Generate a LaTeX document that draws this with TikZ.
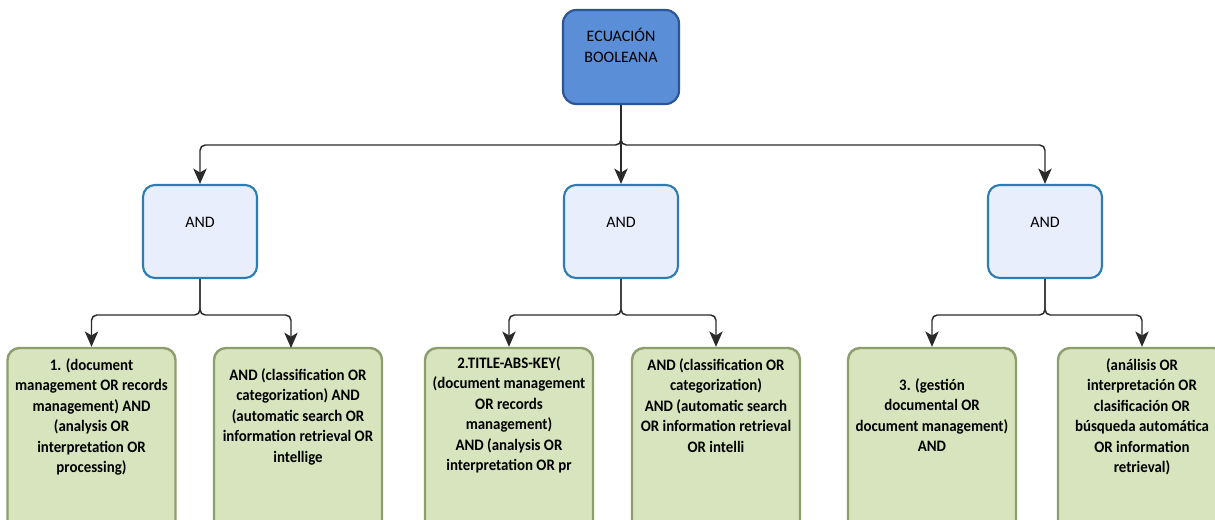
\documentclass[tikz,border=0pt]{standalone}
\usepackage{fontspec}
\setmainfont{Carlito}
\usetikzlibrary{arrows.meta}
\definecolor{topfill}{HTML}{5A8ED6}
\definecolor{topdraw}{HTML}{2C5597}
\definecolor{andfill}{HTML}{E9EEFC}
\definecolor{anddraw}{HTML}{2E7DB2}
\definecolor{leaffill}{HTML}{D8E4BD}
\definecolor{leafdraw}{HTML}{8C9E6C}
\definecolor{wire}{HTML}{2A2A2A}
\tikzset{
  topbox/.style={draw=topdraw, fill=topfill, line width=1.6pt, rounded corners=10pt,
    minimum width=87pt, minimum height=70.5pt, inner sep=0pt},
  andbox/.style={draw=anddraw, fill=andfill, line width=1.6pt, rounded corners=9pt,
    minimum width=85.5pt, minimum height=69.75pt, inner sep=0pt},
  leafbox/.style={draw=leafdraw, fill=leaffill, line width=1.8pt, rounded corners=9pt,
    minimum width=126pt, minimum height=159pt, inner sep=0pt},
  leaftext/.style={anchor=north, align=center, inner sep=0pt,
    font=\fontsize{12}{15.4}\selectfont\bfseries\addfontfeature{FakeStretch=0.93}},
  lbl/.style={inner sep=0pt, align=center, font=\fontsize{12}{15.4}\selectfont},
  wirebus/.style={draw=wire, line width=1.1pt, rounded corners=4pt},
  wirearrow/.style={wirebus, -{Stealth[length=11.5pt,width=10pt,inset=3pt]}}
}
\begin{document}
\begin{tikzpicture}[x=0.75pt,y=-0.75pt]
\clip (0,0) rectangle (1215,520);
\useasboundingbox (0,0) rectangle (1215,520);
\fill[white] (0,0) rectangle (1215,520);
% top
\node[topbox] (top) at (621,57) {};
\node[lbl, anchor=north] (toptext) at (621,28) {ECUACIÓN\\BOOLEANA};
% AND nodes
\node[andbox] (a1) at (200,231.5) {};
\node[andbox] (a2) at (621,231.5) {};
\node[andbox] (a3) at (1045,231.5) {};
\node[lbl] (a1t) at (200,222) {AND};
\node[lbl] (a2t) at (621,222) {AND};
\node[lbl] (a3t) at (1045,222) {AND};
% leaves
\node[leafbox] (c1) at (91.5,454) {};
\node[leafbox] (c2) at (298,454) {};
\node[leafbox] (c3) at (509,454) {};
\node[leafbox] (c4) at (716,454) {};
\node[leafbox] (c5) at (932,454) {};
\node[leafbox] (c6) at (1142,454) {};
\node[leaftext] (t1) at (91.5,358) {1. (document\\management OR records\\management) AND\\(analysis OR\\interpretation OR\\processing)};
\node[leaftext] (t2) at (298,368) {AND (classification OR\\categorization) AND\\(automatic search OR\\information retrieval OR\\intellige};
\node[leaftext] (t3) at (509,356) {2.TITLE-ABS-KEY(\\(document management\\OR records\\management)\\AND (analysis OR\\interpretation OR pr};
\node[leaftext] (t4) at (716,358) {AND (classification OR\\categorization)\\AND (automatic search\\OR information retrieval\\OR intelli};
\node[leaftext] (t5) at (932,378) {3. (gestión\\documental OR\\document management)\\AND};
\node[leaftext] (t6) at (1142,358) {(análisis OR\\interpretación OR\\clasificación OR\\búsqueda automática\\OR information\\retrieval)};
% connectors level 1
\coordinate (j0) at (621,145);
\draw[wirearrow] (top.south) -- (j0) -| (a1.north);
\draw[wirearrow] (top.south) -- (j0) -| (a3.north);
\draw[wirearrow] (top.south) -- (a2.north);
% connectors level 2
\coordinate (j1) at (200,315);
\coordinate (j2) at (621,315);
\coordinate (j3) at (1045,315);
\coordinate (c2in) at (291,348);
\draw[wirearrow] (a1.south) -- (j1) -| (c1.north);
\draw[wirearrow] (a1.south) -- (j1) -| (c2in);
\draw[wirearrow] (a2.south) -- (j2) -| (c3.north);
\draw[wirearrow] (a2.south) -- (j2) -| (c4.north);
\draw[wirearrow] (a3.south) -- (j3) -| (c5.north);
\draw[wirearrow] (a3.south) -- (j3) -| (c6.north);
\end{tikzpicture}
\end{document}
